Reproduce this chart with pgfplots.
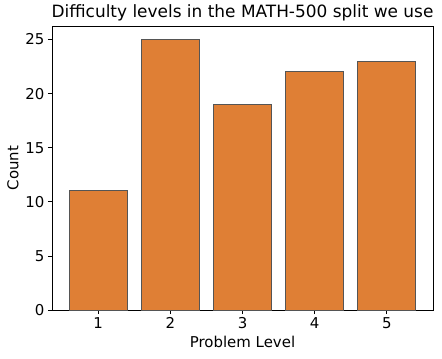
\documentclass[border=0pt]{standalone}
\usepackage{pgfplots}
\pgfplotsset{compat=1.18}
\usepackage{fontspec}
\setmainfont{DejaVu Sans}
\definecolor{barorange}{HTML}{DF7F35}
\definecolor{baredge}{HTML}{555555}
\begin{document}
\begin{tikzpicture}[x=1bp,y=1bp]
\path[use as bounding box] (-52,-48) rectangle (390,310);
\begin{axis}[
  at={(0,0)}, anchor=south west,
  scale only axis,
  width=381bp, height=284bp,
  xmin=0.36, xmax=5.64,
  ymin=0, ymax=26.25,
  xtick={1,2,3,4,5},
  ytick={0,5,10,15,20,25},
  xtick pos=bottom, ytick pos=left,
  tick align=outside,
  major tick length=4bp,
  tick style={color=black, line width=0.8bp},
  axis line style={line width=0.8bp},
  ticklabel style={font=\fontsize{15}{17}\selectfont},
  /pgf/number format/assume math mode=true,
  xlabel={Problem Level},
  ylabel={Count},
  label style={font=\fontsize{15}{17}\selectfont},
  title={Difficulty levels in the MATH-500 split we use},
  title style={font=\fontsize{17}{20}\selectfont, yshift=-5bp},
  ybar, bar width=0.8,
  bar shift=0pt,
]
\addplot[fill=barorange, draw=baredge, line width=1bp] coordinates {(1,11) (2,25) (3,19) (4,22) (5,23)};
\end{axis}
\end{tikzpicture}
\end{document}
